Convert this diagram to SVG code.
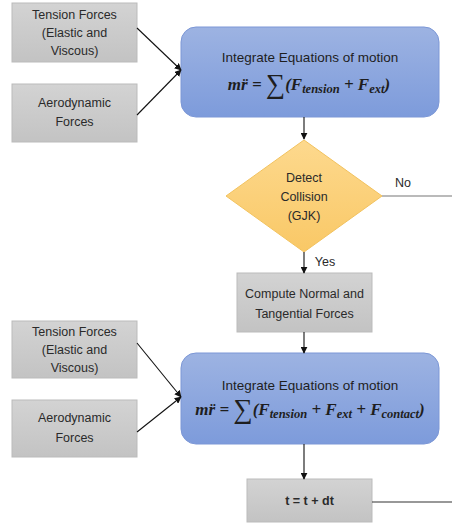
<svg xmlns="http://www.w3.org/2000/svg" width="452" height="525" viewBox="0 0 452 525">
<defs>
<linearGradient id="gGray" x1="0" y1="0" x2="0" y2="1"><stop offset="0" stop-color="#d3d3d3"/><stop offset="1" stop-color="#c3c3c3"/></linearGradient>
<linearGradient id="gBlue" x1="0" y1="0" x2="0" y2="1"><stop offset="0" stop-color="#9db3e2"/><stop offset="1" stop-color="#7d9bdb"/></linearGradient>
<linearGradient id="gYel" x1="0" y1="0" x2="0" y2="1"><stop offset="0" stop-color="#fdd98e"/><stop offset="1" stop-color="#f9c866"/></linearGradient>
<marker id="ah" viewBox="0 0 10 10" refX="9" refY="5" markerWidth="7" markerHeight="7" orient="auto-start-reverse" markerUnits="userSpaceOnUse"><path d="M0,0 L10,5 L0,10 z" fill="#111"/></marker>
<style>
.gray{fill:url(#gGray);stroke:#bbbbbb;stroke-width:1}
.blue{fill:url(#gBlue);stroke:#7c97d6;stroke-width:1}
.dia{fill:url(#gYel);stroke:#f2c25e;stroke-width:1}
.t{font-family:"Liberation Sans",Arial,sans-serif;font-size:12.5px;fill:#2a2a2a;text-anchor:middle;dominant-baseline:central}
.tb{font-family:"Liberation Sans",Arial,sans-serif;font-size:13.5px;fill:#1e1e1e;text-anchor:middle;dominant-baseline:central}
.eq{font-family:"Liberation Serif","Times New Roman",serif;font-style:italic;font-weight:bold;font-size:17px;fill:#1e1e1e}
.sub{font-size:12.5px}
.sig{font-style:normal;font-weight:normal;font-size:27px}
.ln{stroke:#111;stroke-width:1.1;fill:none}
.lg{stroke:#777;stroke-width:1.2;fill:none}
</style>
</defs>
<g id="tension1"><rect class="gray" x="12" y="3" width="125" height="59"/>
<text class="t" x="74.5" y="15">Tension Forces</text><text class="t" x="74.5" y="33">(Elastic and</text><text class="t" x="74.5" y="51">Viscous)</text></g>
<g id="aero1"><rect class="gray" x="12" y="84" width="125" height="58"/>
<text class="t" x="74.5" y="103">Aerodynamic</text><text class="t" x="74.5" y="122">Forces</text></g>
<g id="integrate1"><rect class="blue" x="181" y="27" width="258" height="90" rx="15"/>
<text class="tb" x="310" y="57">Integrate Equations of motion</text>
<text class="eq" x="309" y="90" text-anchor="middle">m<tspan>r̈</tspan> = <tspan class="sig" dy="3">∑</tspan><tspan dy="-3">(F</tspan><tspan class="sub" dy="3">tension</tspan><tspan dy="-3"> + F</tspan><tspan class="sub" dy="3">ext</tspan><tspan dy="-3">)</tspan></text></g>
<g id="collision"><polygon class="dia" points="304,140 382,196 304,252 226,196"/>
<text class="t" x="304" y="178">Detect</text><text class="t" x="304" y="197">Collision</text><text class="t" x="304" y="216">(GJK)</text></g>
<g id="compute"><rect class="gray" x="237" y="273" width="135" height="59"/>
<text class="t" x="304.5" y="294">Compute Normal and</text><text class="t" x="304.5" y="314">Tangential Forces</text></g>
<g id="tension2"><rect class="gray" x="12" y="321" width="125" height="57"/>
<text class="t" x="74.5" y="332">Tension Forces</text><text class="t" x="74.5" y="350">(Elastic and</text><text class="t" x="74.5" y="368">Viscous)</text></g>
<g id="aero2"><rect class="gray" x="12" y="400" width="125" height="57"/>
<text class="t" x="74.5" y="418">Aerodynamic</text><text class="t" x="74.5" y="438">Forces</text></g>
<g id="integrate2"><rect class="blue" x="181" y="353" width="258" height="91" rx="15"/>
<text class="tb" x="310" y="385">Integrate Equations of motion</text>
<text class="eq" x="310" y="415" text-anchor="middle">m<tspan>r̈</tspan> = <tspan class="sig" dy="3">∑</tspan><tspan dy="-3">(F</tspan><tspan class="sub" dy="3">tension</tspan><tspan dy="-3"> + F</tspan><tspan class="sub" dy="3">ext</tspan><tspan dy="-3"> + F</tspan><tspan class="sub" dy="3">contact</tspan><tspan dy="-3">)</tspan></text></g>
<g id="step"><rect class="gray" x="247" y="479" width="125" height="43"/>
<text class="t" x="309.5" y="501" style="font-weight:bold">t = t + dt</text></g>
<g id="connectors">
<line class="ln" x1="137" y1="28" x2="181" y2="70" marker-end="url(#ah)"/>
<line class="ln" x1="137" y1="115" x2="181" y2="70" marker-end="url(#ah)"/>
<line class="ln" x1="304" y1="117" x2="304" y2="139" marker-end="url(#ah)"/>
<line class="lg" x1="382" y1="196" x2="452" y2="196"/>
<text class="t" x="403" y="183">No</text>
<line class="ln" x1="304" y1="252" x2="304" y2="273" marker-end="url(#ah)"/>
<text class="t" x="325" y="262">Yes</text>
<line class="ln" x1="304" y1="332" x2="304" y2="353" marker-end="url(#ah)"/>
<line class="ln" x1="137" y1="343" x2="181" y2="397" marker-end="url(#ah)"/>
<line class="ln" x1="137" y1="432" x2="181" y2="397" marker-end="url(#ah)"/>
<line class="ln" x1="304" y1="444" x2="304" y2="479" marker-end="url(#ah)"/>
<line class="lg" x1="372" y1="502" x2="452" y2="502" style="stroke:#333"/>
</g>
</svg>
